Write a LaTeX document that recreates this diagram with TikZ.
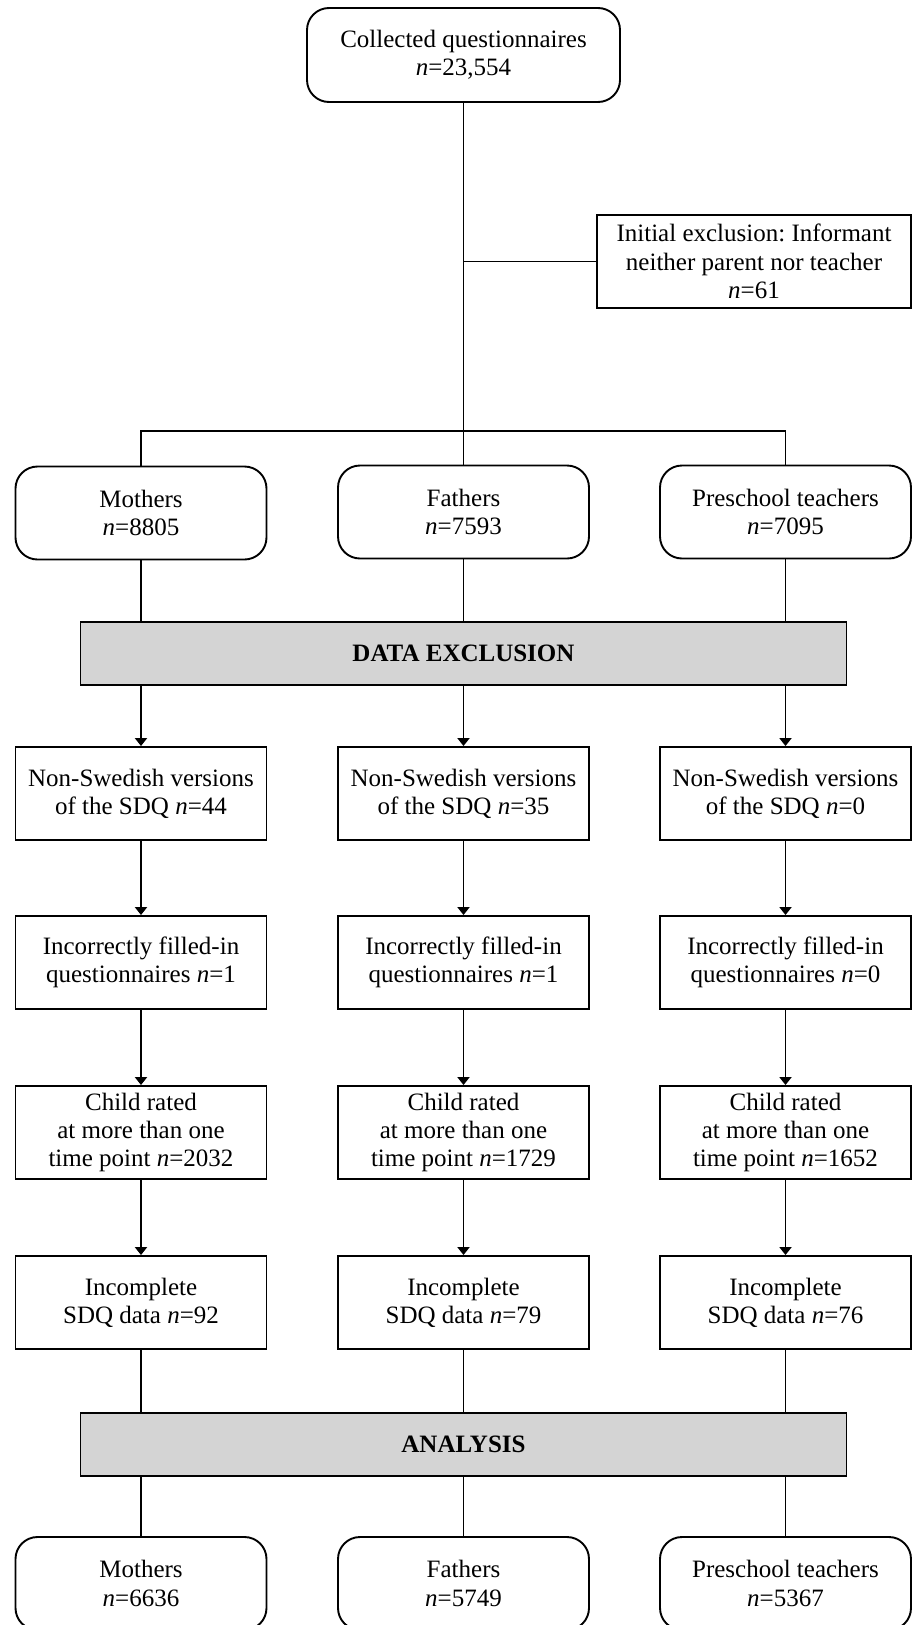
\documentclass[tikz,border=0pt]{standalone}
\usepackage{fontspec}
\setmainfont{Liberation Serif}
\usetikzlibrary{arrows.meta}
\definecolor{barfill}{RGB}{212,212,212}
\frenchspacing
\begin{document}
\begin{tikzpicture}[x=1pt,y=-1pt,
 box/.style={draw, line width=1.9pt, align=center, minimum width=251pt, minimum height=93pt, inner sep=0pt, font=\fontsize{25}{28.3}\selectfont},
 rbox/.style={box, rounded corners=22pt},
 bar/.style={draw, line width=1.9pt, fill=barfill, minimum width=766pt, minimum height=63pt, inner sep=0pt, font=\fontsize{25}{30}\selectfont\bfseries},
 conn/.style={line width=1.9pt},
 arr/.style={conn, -{Triangle[length=8pt,width=12pt]}}]
\useasboundingbox (0,0) rectangle (914,1625);
\clip (0,0) rectangle (914,1625);
% top
\node[rbox, minimum width=313pt, minimum height=94pt] (top) at (463.5,55) {Collected questionnaires\\\textit{n}=23,554};
\node[box, minimum width=314pt] (excl) at (754,261.5) {Initial exclusion: Informant\\neither parent nor teacher\\\textit{n}=61};
\coordinate (br) at (463.5,431);
% first row
\node[rbox] (mo) at (141,513) {Mothers\\\textit{n}=8805};
\node[rbox] (fa) at (463.5,512) {Fathers\\\textit{n}=7593};
\node[rbox] (te) at (785.5,512) {Preschool teachers\\\textit{n}=7095};
\node[bar] (de) at (463.5,653.5) {DATA EXCLUSION};
% Non-Swedish
\node[box] (ns1) at (141,793.5) {Non-Swedish versions\\of the SDQ \textit{n}=44};
\node[box] (ns2) at (463.5,793.5) {Non-Swedish versions\\of the SDQ \textit{n}=35};
\node[box] (ns3) at (785.5,793.5) {Non-Swedish versions\\of the SDQ \textit{n}=0};
% Incorrectly
\node[box] (ic1) at (141,962.5) {Incorrectly filled-in\\questionnaires \textit{n}=1};
\node[box] (ic2) at (463.5,962.5) {Incorrectly filled-in\\questionnaires \textit{n}=1};
\node[box] (ic3) at (785.5,962.5) {Incorrectly filled-in\\questionnaires \textit{n}=0};
% Child rated
\node[box] (cr1) at (141,1132.5) {Child rated\\at more than one\\time point \textit{n}=2032};
\node[box] (cr2) at (463.5,1132.5) {Child rated\\at more than one\\time point \textit{n}=1729};
\node[box] (cr3) at (785.5,1132.5) {Child rated\\at more than one\\time point \textit{n}=1652};
% Incomplete
\node[box] (in1) at (141,1302.5) {Incomplete\\SDQ data \textit{n}=92};
\node[box] (in2) at (463.5,1302.5) {Incomplete\\SDQ data \textit{n}=79};
\node[box] (in3) at (785.5,1302.5) {Incomplete\\SDQ data \textit{n}=76};
\node[bar] (an) at (463.5,1444.5) {ANALYSIS};
% final
\node[rbox] (fm) at (141,1583.5) {Mothers\\\textit{n}=6636};
\node[rbox] (ff) at (463.5,1583.5) {Fathers\\\textit{n}=5749};
\node[rbox] (ft) at (785.5,1583.5) {Preschool teachers\\\textit{n}=5367};
% connectors
\draw[conn] (top.south) -- (fa.north);
\draw[conn] (excl.west) -- (excl.west -| top.south);
\draw[conn] (mo.north) -- (mo.north |- br) -- (te.north |- br) -- (te.north);
\foreach \c/\n in {mo/ns1, fa/ns2, te/ns3}{
  \draw[conn] (\c.south) -- (\c.south |- de.north);
  \draw[arr] (\c.south |- de.south) -- (\n.north);
}
\foreach \a/\b in {ns1/ic1, ns2/ic2, ns3/ic3, ic1/cr1, ic2/cr2, ic3/cr3, cr1/in1, cr2/in2, cr3/in3}{
  \draw[arr] (\a.south) -- (\b.north);
}
\foreach \a/\b in {in1/fm, in2/ff, in3/ft}{
  \draw[conn] (\a.south) -- (\a.south |- an.north);
  \draw[conn] (\a.south |- an.south) -- (\b.north);
}
\end{tikzpicture}
\end{document}
